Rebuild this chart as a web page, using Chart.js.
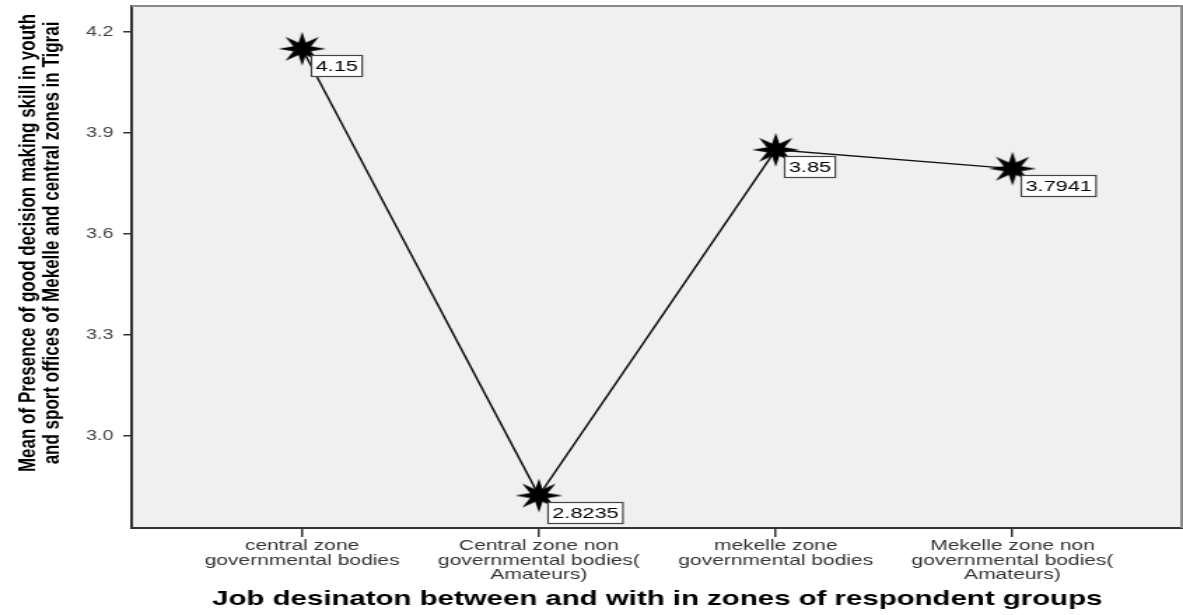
<!DOCTYPE html>
<html>
<head>
<meta charset="utf-8">
<script src="https://cdn.jsdelivr.net/npm/chart.js@4.4.1/dist/chart.umd.min.js"></script>
<style>
  body { margin: 0; background: #fff; }
</style>
</head>
<body>
<!-- the original picture is stretched sideways, so the canvas is too -->
<canvas id="chart" width="845" height="615" style="display:block;width:1183px;height:615px"></canvas>
<script>
// job groups (x axis), one line per \n
const groups = [
  'central zone\ngovernmental bodies',
  'Central zone non\ngovernmental bodies(\nAmateurs)',
  'mekelle zone\ngovernmental bodies',
  'Mekelle zone non\ngovernmental bodies(\nAmateurs)'
];
// mean values
const means = [4.15, 2.8235, 3.85, 3.7941];
// y ticks
const yTicks = [3.0, 3.3, 3.6, 3.9, 4.2];

const xTitle = 'Job desinaton between and with in zones of respondent groups';
const yTitle = [
  'Mean of Presence of good decision making skill in youth',
  'and sport offices of Mekelle and central zones in Tigrai'
];

// 8 point star used as marker
const makeStar = () => {
  const c = document.createElement('canvas');
  c.width = 36; c.height = 36;
  const g = c.getContext('2d');
  g.beginPath();
  for (let i = 0; i < 16; i++) {
    const r = i % 2 === 0 ? 17 : 6.8;
    const a = i * Math.PI / 8 - Math.PI / 2;
    const px = 18 + r * Math.cos(a), py = 18 + r * Math.sin(a);
    if (i === 0) g.moveTo(px, py); else g.lineTo(px, py);
  }
  g.closePath();
  g.fillStyle = '#000';
  g.fill();
  return c;
};

const framePlugin = {
  id: 'frame',
  beforeDraw(chart) {
    const { ctx, chartArea: a } = chart;
    ctx.save();
    ctx.fillStyle = '#fff';
    ctx.fillRect(0, 0, chart.width, chart.height);
    ctx.fillStyle = '#f0f0f0';
    ctx.fillRect(a.left, a.top, a.right - a.left, a.bottom - a.top);
    ctx.restore();
  },
  afterDraw(chart) {
    const { ctx, chartArea: a } = chart;
    ctx.save();
    // top and right edges of the frame
    ctx.strokeStyle = '#8a8a8a';
    ctx.lineWidth = 2;
    ctx.beginPath();
    ctx.moveTo(a.left, a.top);
    ctx.lineTo(a.right - 1, a.top);
    ctx.lineTo(a.right - 1, a.bottom);
    ctx.stroke();

    // y axis title, two rotated lines
    ctx.fillStyle = '#000';
    ctx.font = 'bold 17px "Liberation Sans", Arial, sans-serif';
    ctx.textAlign = 'center';
    ctx.textBaseline = 'middle';
    ctx.translate(0, 243);
    ctx.rotate(-Math.PI / 2);
    ctx.fillText(yTitle[0], 0, 20);
    ctx.fillText(yTitle[1], 0, 37);
    ctx.restore();
  },
  afterDatasetsDraw(chart) {
    const { ctx } = chart;
    const meta = chart.getDatasetMeta(0);
    ctx.save();
    ctx.font = '15.5px "Liberation Sans", Arial, sans-serif';
    ctx.textBaseline = 'middle';
    ctx.textAlign = 'left';
    meta.data.forEach((pt, i) => {
      const txt = String(means[i]);
      const w = ctx.measureText(txt).width + 6;
      const bx = Math.round(pt.x + 6) + 0.5, by = Math.round(pt.y + 6) + 0.5;
      ctx.fillStyle = '#fff';
      ctx.fillRect(bx, by, w, 21);
      ctx.strokeStyle = '#444';
      ctx.lineWidth = 1.2;
      ctx.strokeRect(bx, by, w, 21);
      ctx.fillStyle = '#000';
      ctx.fillText(txt, bx + 3, by + 11);
    });
    ctx.restore();
  }
};

new Chart(document.getElementById('chart'), {
  type: 'line',
  data: {
    datasets: [{
      data: means.map((v, i) => ({ x: i, y: v })),
      borderColor: '#111',
      borderWidth: 1.5,
      tension: 0,
      pointStyle: makeStar(),
      pointRadius: 18,
      pointHoverRadius: 18
    }]
  },
  options: {
    responsive: false,
    animation: false,
    devicePixelRatio: 1,
    layout: { autoPadding: false, padding: { top: 6, right: 0, left: 0, bottom: 3 } },
    plugins: { legend: { display: false }, tooltip: { enabled: false } },
    scales: {
      x: {
        type: 'linear',
        min: -0.72,
        max: 3.72,
        afterBuildTicks: s => { s.ticks = groups.map((g, i) => ({ value: i })); },
        afterFit: s => { s.height = 84; s.paddingLeft = 0; s.paddingRight = 0; },
        ticks: {
          autoSkip: false,
          maxRotation: 0,
          padding: 2,
          color: '#333',
          font: { family: '"Liberation Sans", Arial, sans-serif', size: 15, lineHeight: 0.95 },
          callback: v => groups[v] ? groups[v].split('\n') : ''
        },
        border: { display: true, color: '#333', width: 2 },
        grid: { drawOnChartArea: false, drawTicks: true, tickLength: 9, color: '#333', lineWidth: 1.5 },
        title: {
          display: true,
          text: xTitle,
          color: '#000',
          font: { family: '"Liberation Sans", Arial, sans-serif', size: 21, weight: 'bold' },
          padding: { top: 0, bottom: 0 }
        }
      },
      y: {
        min: 2.727,
        max: 4.277,
        afterBuildTicks: s => { s.ticks = yTicks.map(v => ({ value: v })); },
        afterFit: s => { s.width = 94; s.paddingTop = 0; s.paddingBottom = 0; },
        ticks: {
          padding: 7,
          color: '#444',
          font: { family: '"Liberation Sans", Arial, sans-serif', size: 14 },
          callback: v => v.toFixed(1)
        },
        border: { display: true, color: '#333', width: 2 },
        grid: { drawOnChartArea: false, drawTicks: true, tickLength: 6, color: '#333', lineWidth: 1.5 }
      }
    }
  },
  plugins: [framePlugin]
});
</script>
</body>
</html>
